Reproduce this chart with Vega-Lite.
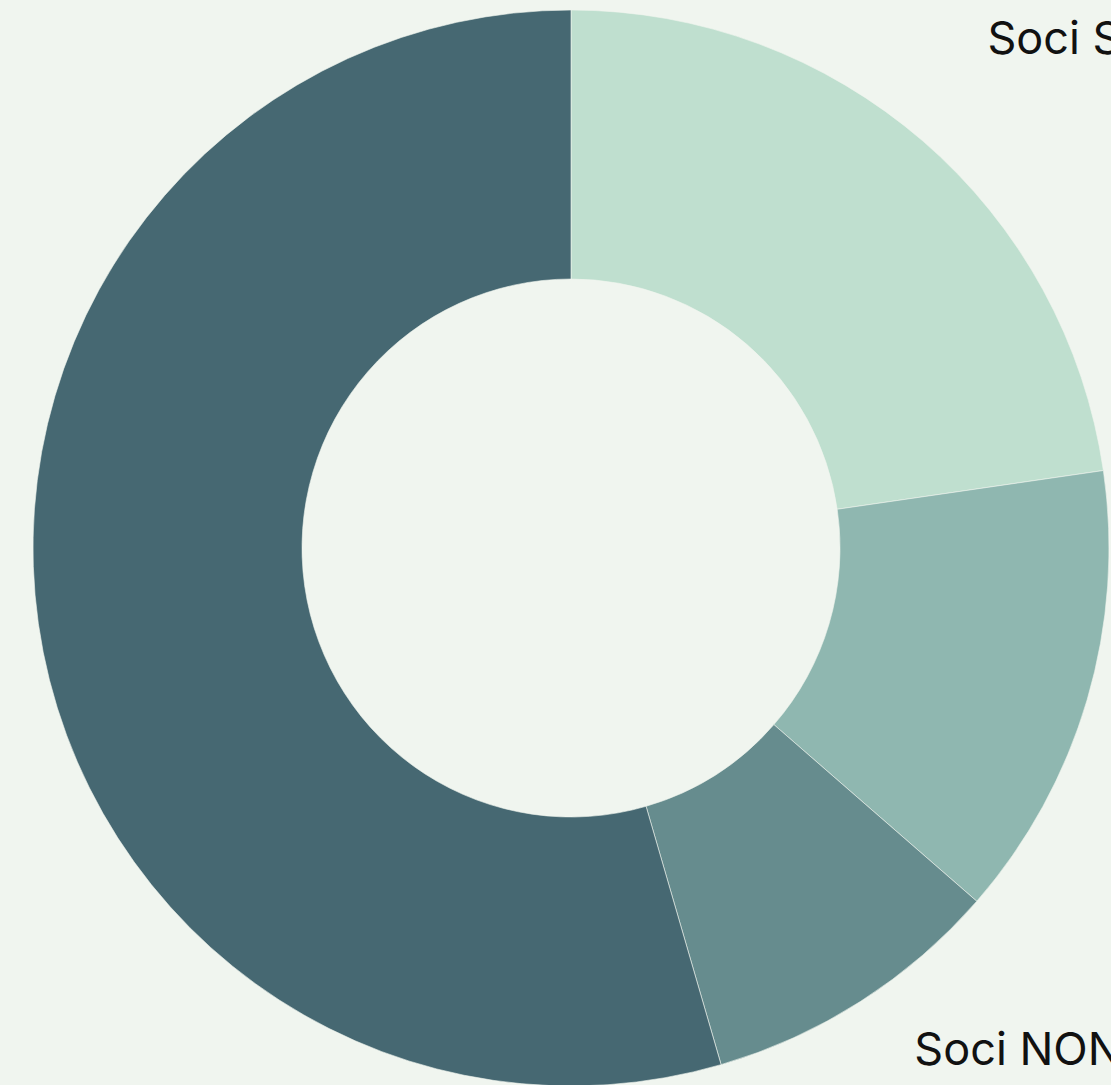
{
  "$schema": "https://vega.github.io/schema/vega-lite/v6.json",
  "width": 1142,
  "height": 1096,
  "padding": 0,
  "autosize": {"type": "none"},
  "background": "#f0f5ef",
  "view": {"stroke": null},
  "data": {
    "values": [
      {"ord": 1, "label": "Soci Sostenitori", "value": 22.7},
      {"ord": 2, "label": "Soci Ordinari", "value": 13.7},
      {"ord": 3, "label": "Soci NON attivi", "value": 9.1},
      {"ord": 4, "label": "Non soci", "value": 54.5}
    ]
  },
  "encoding": {
    "theta": {"field": "value", "type": "quantitative", "stack": true},
    "order": {"field": "ord", "type": "quantitative"}
  },
  "layer": [
    {
      "mark": {"type": "arc", "outerRadius": 538, "innerRadius": 269, "stroke": "#f0f5ef", "strokeWidth": 0.6},
      "encoding": {
        "color": {
          "field": "label",
          "type": "nominal",
          "sort": ["Soci Sostenitori", "Soci Ordinari", "Soci NON attivi", "Non soci"],
          "scale": {
            "domain": ["Soci Sostenitori", "Soci Ordinari", "Soci NON attivi", "Non soci"],
            "range": ["#bfdfcf", "#8fb7b0", "#668c8e", "#466872"]
          },
          "legend": null
        }
      }
    },
    {
      "mark": {"type": "text", "radius": 632, "align": "left", "baseline": "middle", "dx": 3, "dy": -30, "fontSize": 45, "font": "Inter", "color": "#111111"},
      "encoding": {
        "text": {"condition": {"test": "datum.ord <= 3", "field": "label"}, "value": ""}
      }
    },
    {
      "mark": {"type": "text", "radius": 632, "align": "right", "baseline": "middle", "dy": -30, "fontSize": 45, "font": "Inter", "color": "#111111"},
      "encoding": {
        "text": {"condition": {"test": "datum.ord == 4", "field": "label"}, "value": ""}
      }
    }
  ]
}
